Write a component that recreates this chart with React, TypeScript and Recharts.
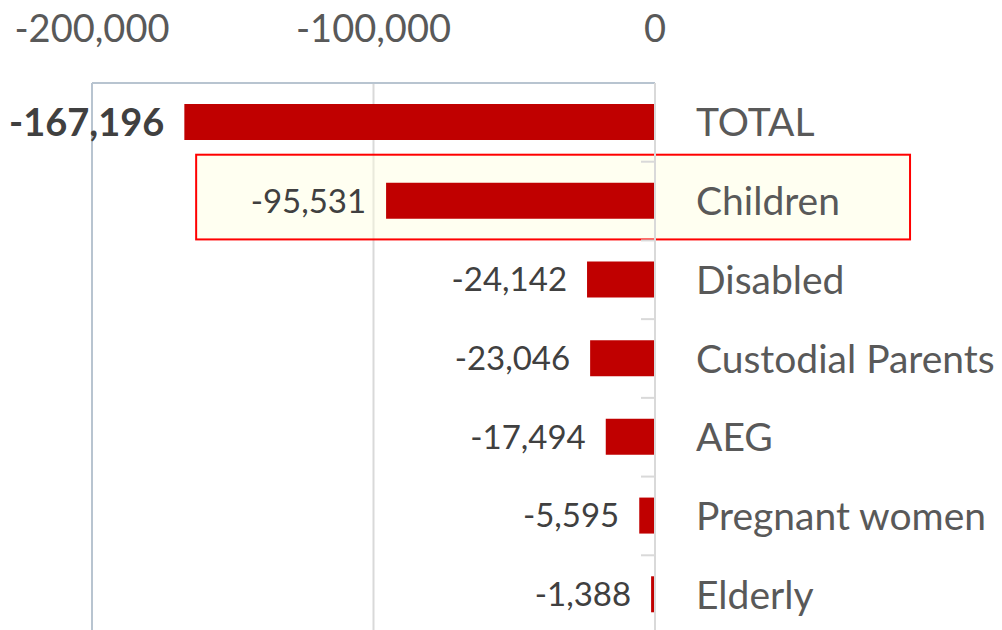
import { Bar, BarChart, CartesianGrid, LabelList, ReferenceArea, ReferenceLine, XAxis, YAxis } from 'recharts';

// Net change by eligibility group
const categories = ['TOTAL', 'Children', 'Disabled', 'Custodial Parents', 'AEG', 'Pregnant women', 'Elderly'];
const changes = [-167196, -95531, -24142, -23046, -17494, -5595, -1388];
const xTicks = [-200000, -100000, 0];
const highlighted = 'Children';

const data = categories.map((name, i) => ({ name, change: changes[i] }));

const FONT = 'Lato, "Noto Sans", sans-serif';
const BAND = 551 / 7;
const fmt = (v: number) => (v < 0 ? '-' : '') + Math.abs(v).toLocaleString('en-US');

const CategoryTick = (props: any) => {
  const { x, y, payload } = props;
  return (
    <g>
      <line x1={x - 14} x2={x} y1={y + BAND / 2} y2={y + BAND / 2} stroke="#d9d9d9" strokeWidth={2} />
      <text x={x + 41} y={y} dy="0.36em" fill="#595959" fontSize={39} fontFamily={FONT}>
        {payload.value}
      </text>
    </g>
  );
};

const ValueLabel = (props: any) => {
  const { x, y, width, height, value, index } = props;
  const left = Math.min(x, x + width);
  const bold = index === 0;
  return (
    <text
      x={left - 20}
      y={y + height / 2}
      dy="0.36em"
      textAnchor="end"
      fill="#404040"
      fontSize={bold ? 38 : 33}
      fontWeight={bold ? 700 : 400}
      fontFamily={FONT}
    >
      {fmt(value)}
    </text>
  );
};

// highlight box, stretched a little above the band like the original
const HighlightBox = (props: any) => {
  const { x, y, width, height } = props;
  return (
    <rect
      x={x}
      y={y - 7}
      width={width}
      height={height + 6}
      fill="#ffffe0"
      fillOpacity={0.45}
      stroke="#ff0000"
      strokeWidth={2}
    />
  );
};

export default function App() {
  return (
    <div style={{ position: 'fixed', left: 0, top: 0, width: 1002, height: 630, overflow: 'hidden', background: '#fff' }}>
      <BarChart
        width={1002}
        height={640}
        data={data}
        layout="vertical"
        margin={{ top: 23, right: 17, bottom: 6, left: 92 }}
        barSize={36}
      >
        <CartesianGrid horizontal={false} vertical stroke="#d9d9d9" strokeWidth={2} />
        <ReferenceArea
          y1={highlighted}
          y2={highlighted}
          x1={-163000}
          x2={90600}
          ifOverflow="visible"
          shape={<HighlightBox />}
        />
        <XAxis
          type="number"
          orientation="top"
          domain={[-200000, 0]}
          ticks={xTicks}
          tickFormatter={fmt}
          height={60}
          tickSize={0}
          tickMargin={41}
          axisLine={{ stroke: '#b8c4d0', strokeWidth: 2 }}
          tick={{ fill: '#595959', fontSize: 38, fontFamily: FONT }}
          interval={0}
        />
        <YAxis
          type="category"
          dataKey="name"
          orientation="right"
          width={330}
          tickSize={0}
          tickMargin={0}
          axisLine={{ stroke: '#d9d9d9', strokeWidth: 2 }}
          tick={<CategoryTick />}
          interval={0}
        />
        <ReferenceLine x={-200000} stroke="#b8c4d0" strokeWidth={2} />
        <Bar dataKey="change" fill="#c00000" isAnimationActive={false}>
          <LabelList dataKey="change" content={<ValueLabel />} />
        </Bar>
      </BarChart>
    </div>
  );
}
